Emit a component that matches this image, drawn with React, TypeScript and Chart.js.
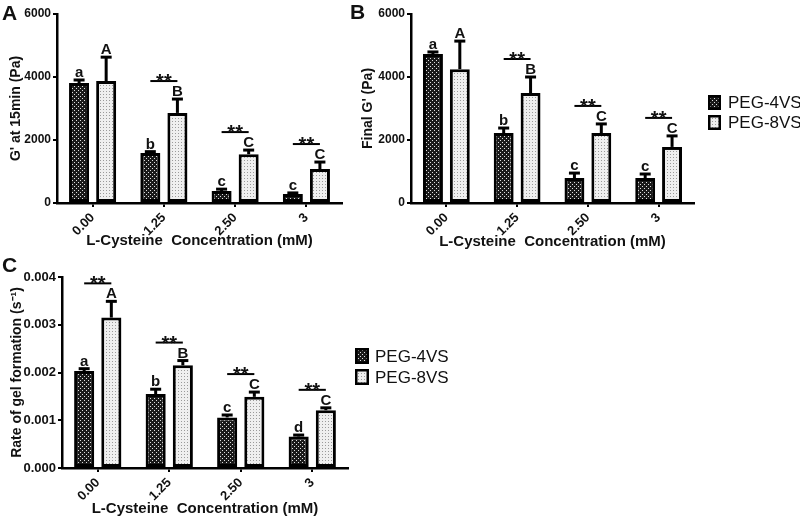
import React, { useEffect, useRef } from 'react';
import { Chart, registerables } from 'chart.js';

Chart.register(...registerables);

const FONT = '"Liberation Sans", Arial, Helvetica, sans-serif';

// ---------- data ----------
const categories = ['0.00', '1.25', '2.50', '3'];
const seriesLabels = ['PEG-4VS', 'PEG-8VS'];

// Panel A: G' at 15 min (Pa)
const a4 = [3810, 1590, 380, 285];
const a4Err = [95, 40, 60, 35];
const a8 = [3870, 2860, 1550, 1080];
const a8Err = [760, 440, 130, 220];
const aLetters4 = ['a', 'b', 'c', 'c'];
const aLetters8 = ['A', 'B', 'C', 'C'];
const aSig = [false, true, true, true];

// Panel B: Final G' (Pa)
const b4 = [4730, 2220, 790, 790];
const b4Err = [65, 160, 160, 130];
const b8 = [4250, 3490, 2220, 1780];
const b8Err = [890, 510, 290, 350];
const bLetters4 = ['a', 'b', 'c', 'c'];
const bLetters8 = ['A', 'B', 'C', 'C'];
const bSig = [false, true, true, true];

// Panel C: rate of gel formation (s^-1)
const c4 = [0.00203, 0.00155, 0.00106, 0.00066];
const c4Err = [0.00005, 0.0001, 0.00005, 0.00003];
const c8 = [0.00315, 0.00215, 0.00149, 0.00121];
const c8Err = [0.00034, 0.0001, 0.0001, 0.00005];
const cLetters4 = ['a', 'b', 'c', 'd'];
const cLetters8 = ['A', 'B', 'C', 'C'];
const cSig = [true, true, true, true];

const sigText = '**';
const xTitle = 'L-Cysteine  Concentration (mM)';

type Panel = {
  key: string;
  letter: string;
  letterPos: [number, number];
  yTitle: string;
  v4: number[]; e4: number[]; v8: number[]; e8: number[];
  l4: string[]; l8: string[]; sig: boolean[];
  yMax: number; yStep: number; dec: number;
  pad: { left: number; top: number; right: number; bottom: number };
  yW: number; xH: number; yTitlePad: number; xTitlePad: number;
  yTickSize: number; xTickSize: number;
  legend?: { x: number; top: number; rowH: number; boxW: number; boxH: number; textDx: number; size: number };
};

const panels: Panel[] = [
  {
    key: 'A', letter: 'A', letterPos: [2, 20], yTitle: "G' at 15min (Pa)",
    v4: a4, e4: a4Err, v8: a8, e8: a8Err, l4: aLetters4, l8: aLetters8, sig: aSig,
    yMax: 6000, yStep: 2000, dec: 0,
    pad: { left: 0, top: 14, right: 458, bottom: 260 },
    yW: 57, xH: 59, yTitlePad: 8, xTitlePad: 12, yTickSize: 12, xTickSize: 13,
  },
  {
    key: 'B', letter: 'B', letterPos: [350, 19], yTitle: "Final G' (Pa)",
    v4: b4, e4: b4Err, v8: b8, e8: b8Err, l4: bLetters4, l8: bLetters8, sig: bSig,
    yMax: 6000, yStep: 2000, dec: 0,
    pad: { left: 350, top: 14, right: 106, bottom: 260 },
    yW: 61, xH: 59, yTitlePad: 10, xTitlePad: 11, yTickSize: 12, xTickSize: 13,
    legend: { x: 708, top: 95, rowH: 20, boxW: 13, boxH: 15, textDx: 20, size: 17 },
  },
  {
    key: 'C', letter: 'C', letterPos: [2, 272], yTitle: 'Rate of gel formation (s\u207B\u00B9)',
    v4: c4, e4: c4Err, v8: c8, e8: c8Err, l4: cLetters4, l8: cLetters8, sig: cSig,
    yMax: 0.004, yStep: 0.001, dec: 3,
    pad: { left: 0, top: 277, right: 452, bottom: 0 },
    yW: 62, xH: 54, yTitlePad: 9, xTitlePad: 4, yTickSize: 13, xTickSize: 13,
    legend: { x: 355, top: 348, rowH: 21, boxW: 14, boxH: 16, textDx: 20, size: 17 },
  },
];

function makePattern(ctx: CanvasRenderingContext2D, bg: string, dot: string, size: number, dots: number[][]) {
  const c = document.createElement('canvas');
  c.width = size;
  c.height = size;
  const g = c.getContext('2d')!;
  g.fillStyle = bg;
  g.fillRect(0, 0, size, size);
  g.fillStyle = dot;
  dots.forEach(([x, y]) => g.fillRect(x, y, 1, 1));
  return ctx.createPattern(c, 'repeat') as CanvasPattern;
}

function makeAnnotPlugin(p: Panel, fills: CanvasPattern[]) {
  return {
    id: 'annot' + p.key,
    afterDatasetsDraw(chart: any) {
      const ctx: CanvasRenderingContext2D = chart.ctx;
      const ys = chart.scales.y;
      const metas = [chart.getDatasetMeta(0), chart.getDatasetMeta(1)];
      const vals = [p.v4, p.v8];
      const errs = [p.e4, p.e8];
      const lets = [p.l4, p.l8];
      const tops: number[][] = [[], []];
      ctx.save();
      metas.forEach((m: any, d: number) => {
        m.data.forEach((el: any, i: number) => {
          const top = ys.getPixelForValue(vals[d][i] + errs[d][i]);
          tops[d][i] = top;
          ctx.strokeStyle = '#000';
          ctx.lineWidth = 3;
          ctx.beginPath();
          ctx.moveTo(el.x, el.y);
          ctx.lineTo(el.x, top);
          ctx.stroke();
          ctx.beginPath();
          ctx.moveTo(el.x - 5.5, top);
          ctx.lineTo(el.x + 5.5, top);
          ctx.stroke();
          ctx.fillStyle = '#111';
          ctx.font = `bold 15px ${FONT}`;
          ctx.textAlign = 'center';
          ctx.textBaseline = 'alphabetic';
          ctx.fillText(lets[d][i], el.x, top - 3);
        });
      });
      p.sig.forEach((s, i) => {
        if (!s) return;
        const x0 = metas[0].data[i].x;
        const x1 = metas[1].data[i].x;
        const lineY = Math.min(tops[0][i], tops[1][i]) - 18;
        ctx.strokeStyle = '#000';
        ctx.lineWidth = 2;
        ctx.beginPath();
        ctx.moveTo(x0, lineY);
        ctx.lineTo(x1, lineY);
        ctx.stroke();
        ctx.fillStyle = '#111';
        ctx.font = `bold 20px ${FONT}`;
        ctx.textAlign = 'center';
        ctx.textBaseline = 'alphabetic';
        ctx.fillText(sigText, (x0 + x1) / 2, lineY + 7);
      });
      ctx.restore();
    },
    afterDraw(chart: any) {
      const ctx: CanvasRenderingContext2D = chart.ctx;
      ctx.save();
      ctx.fillStyle = '#111';
      ctx.font = `bold 21px ${FONT}`;
      ctx.textAlign = 'left';
      ctx.textBaseline = 'alphabetic';
      ctx.fillText(p.letter, p.letterPos[0], p.letterPos[1]);
      const L = p.legend;
      if (L) {
        seriesLabels.forEach((lab, k) => {
          const top = L.top + k * L.rowH;
          ctx.fillStyle = fills[k];
          ctx.fillRect(L.x, top, L.boxW, L.boxH);
          ctx.strokeStyle = '#000';
          ctx.lineWidth = 2.5;
          ctx.strokeRect(L.x + 1.25, top + 1.25, L.boxW - 2.5, L.boxH - 2.5);
          ctx.fillStyle = '#111';
          ctx.font = `${L.size}px ${FONT}`;
          ctx.textBaseline = 'middle';
          ctx.fillText(lab, L.x + L.textDx, top + L.boxH / 2 + 1);
        });
      }
      ctx.restore();
    },
  };
}

function PanelChart({ p }: { p: Panel }) {
  const ref = useRef<HTMLCanvasElement>(null);
  useEffect(() => {
    const canvas = ref.current!;
    const ctx = canvas.getContext('2d')!;
    const dark = makePattern(ctx, '#1a1a1a', '#e0e0e0', 4, [[0, 0], [2, 2]]);
    const light = makePattern(ctx, '#efefef', '#9a9a9a', 3, [[1, 1]]);
    const fills = [dark, light];
    const tickFontY = { family: FONT, size: p.yTickSize, weight: 'bold' as const };
    const tickFontX = { family: FONT, size: p.xTickSize, weight: 'bold' as const };
    const chart = new Chart(canvas, {
      type: 'bar',
      data: {
        labels: categories,
        datasets: [
          { label: seriesLabels[0], data: p.v4, backgroundColor: dark, borderColor: '#000', borderWidth: 3, borderSkipped: false },
          { label: seriesLabels[1], data: p.v8, backgroundColor: light, borderColor: '#000', borderWidth: 3, borderSkipped: false },
        ],
      },
      options: {
        responsive: false,
        maintainAspectRatio: false,
        animation: false,
        devicePixelRatio: 1,
        events: [],
        categoryPercentage: 0.76,
        barPercentage: 0.74,
        layout: { padding: p.pad },
        plugins: { legend: { display: false }, tooltip: { enabled: false }, title: { display: false } },
        scales: {
          x: {
            type: 'category',
            offset: true,
            grid: { display: true, drawOnChartArea: false, drawTicks: true, tickLength: 4, color: '#000', lineWidth: 2, offset: false },
            border: { display: true, color: '#000', width: 2.5 },
            ticks: { color: '#111', font: tickFontX, minRotation: 45, maxRotation: 45, padding: 3, autoSkip: false },
            title: { display: true, text: xTitle, color: '#111', font: { family: FONT, size: 15, weight: 'bold' }, padding: { top: 0, bottom: p.xTitlePad } },
            afterFit: (s: any) => { s.height = p.xH; },
          },
          y: {
            min: 0,
            max: p.yMax,
            grid: { display: true, drawOnChartArea: false, drawTicks: true, tickLength: 4, color: '#000', lineWidth: 2 },
            border: { display: true, color: '#000', width: 2.5 },
            ticks: { color: '#111', font: tickFontY, stepSize: p.yStep, padding: 2, callback: (v: any) => Number(v).toFixed(p.dec) },
            title: { display: true, text: p.yTitle, color: '#111', font: { family: FONT, size: 14, weight: 'bold' }, padding: { top: p.yTitlePad, bottom: 0 } },
            afterFit: (s: any) => { s.width = p.yW; },
          },
        },
      } as any,
      plugins: [makeAnnotPlugin(p, fills)],
    });
    return () => chart.destroy();
  }, [p]);
  return (
    <canvas
      ref={ref}
      width={800}
      height={522}
      style={{ position: 'absolute', left: 0, top: 0, width: 800, height: 522 }}
    />
  );
}

export default function App() {
  return (
    <div style={{ position: 'fixed', left: 0, top: 0, width: 800, height: 522, background: '#fff', overflow: 'hidden' }}>
      {panels.map((p) => (
        <PanelChart key={p.key} p={p} />
      ))}
    </div>
  );
}
